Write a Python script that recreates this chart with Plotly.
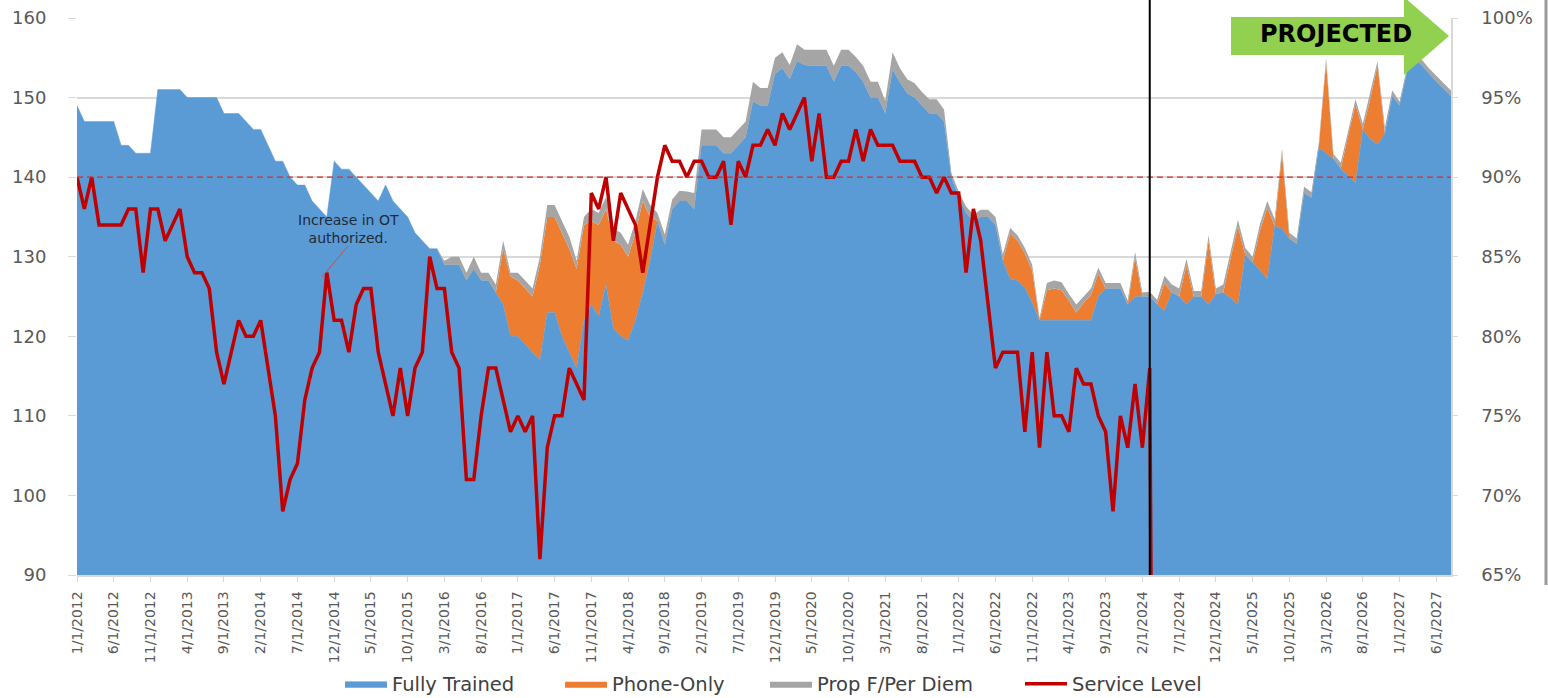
import plotly.graph_objects as go

# ---------------- data ----------------
N_MONTHS = 188
START_YEAR = 2012
months = [f"{(m % 12) + 1}/1/{START_YEAR + m // 12}" for m in range(N_MONTHS)]
tick_labels = months[::5]

fully_trained = [
    149, 147, 147, 147, 147, 147, 144, 144, 143, 143,
    143, 151, 151, 151, 151, 150, 150, 150, 150, 150,
    148, 148, 148, 147, 146, 146, 144, 142, 142, 140,
    139, 139, 137, 136, 135, 142, 141, 141, 140, 139,
    138, 137, 139, 137, 136, 135, 133, 132, 131, 131,
    129, 129, 129, 127, 128.5, 127, 127, 125.5, 124, 120,
    120, 119, 118, 117, 123, 123, 120, 118, 116, 122,
    124, 122.5, 126.5, 121, 120, 119.5, 122, 125.5, 129.5, 134.5,
    131.5, 136, 137, 137, 136, 144, 144, 144, 143, 143,
    144, 145, 149.5, 149, 149, 153, 153.7, 152.3, 154.6, 154.1,
    154, 154, 154, 152, 154, 154, 153.2, 152, 150, 150,
    148, 153.5, 151.9, 150.5, 150, 149, 148, 148, 147, 140,
    137.5, 135.5, 134.5, 135, 135, 134, 129.5, 127.2, 127, 126.1,
    124.2, 122, 122, 122, 122, 122, 122, 122, 122, 125,
    126, 126, 126, 124, 125, 125, 125, 124, 123.2, 125.5,
    125, 124, 125, 125, 124, 125.3, 125.5, 124.8, 124, 130.2,
    129.3, 128.3, 127.2, 133.9, 133.5, 132.3, 131.6, 138, 137.4, 143.7,
    143, 142.3, 141.1, 140.2, 139.3, 146, 144.8, 144.1, 145.5, 150.2,
    149, 153.2, 154.8, 154.1, 153, 152, 151.1, 150.2,
]

phone_only = [
    0, 0, 0, 0, 0, 0, 0, 0, 0, 0,
    0, 0, 0, 0, 0, 0, 0, 0, 0, 0,
    0, 0, 0, 0, 0, 0, 0, 0, 0, 0,
    0, 0, 0, 0, 0, 0, 0, 0, 0, 0,
    0, 0, 0, 0, 0, 0, 0, 0, 0, 0,
    0, 0, 0, 0, 0, 0, 0, 0, 7, 7.5,
    7, 7, 7, 12, 12, 12, 13, 13, 12.5, 12,
    10.5, 11.5, 9.5, 11, 11.5, 10.5, 11, 11.5, 5.5, 0,
    0, 0, 0, 0, 0, 0, 0, 0, 0, 0,
    0, 0, 0, 0, 0, 0, 0, 0, 0, 0,
    0, 0, 0, 0, 0, 0, 0, 0, 0, 0,
    0, 0, 0, 0, 0, 0, 0, 0, 0, 0,
    0, 0, 0, 0, 0, 0, 0, 5.7, 5, 4.3,
    4.1, 0, 3.8, 4, 3.8, 2.5, 1, 2.2, 3.2, 2.9,
    0, 0, 0, 0, 4.9, 0, 0, 0, 3.5, 0,
    0, 5, 0, 0, 8, 0, 0, 5, 9.8, 0,
    0, 5, 9, 0, 9.5, 0, 0, 0, 0, 0,
    11.4, 0, 0, 5, 9.9, 0, 5, 10, 0, 0,
    0, 0, 0, 0, 0, 0, 0, 0,
]

prop_f_per_diem = [
    0, 0, 0, 0, 0, 0, 0, 0, 0, 0,
    0, 0, 0, 0, 0, 0, 0, 0, 0, 0,
    0, 0, 0, 0, 0, 0, 0, 0, 0, 0,
    0, 0, 0, 0, 0, 0, 0, 0, 0, 0,
    0, 0, 0, 0, 0, 0, 0, 0, 0, 0,
    0.5, 1, 1, 1, 1.5, 1, 1, 1, 1, 0.5,
    1, 1, 1, 1, 1.5, 1.5, 1.5, 1.5, 1, 1,
    1.5, 1.5, 1.5, 1.5, 1.5, 1.5, 1.5, 1.5, 1.5, 1,
    1.3, 1.2, 1.3, 1.2, 2, 2, 2, 2, 2, 2,
    2, 2, 2.5, 2.2, 2.2, 2, 2, 1.8, 2.1, 1.9,
    2, 2, 2, 2, 2, 2, 1.9, 2, 2, 2,
    1.6, 2.2, 1.8, 1.8, 1.8, 1.7, 1.8, 1.8, 1.5, 0.5,
    0.7, 0.8, 0.8, 0.9, 0.9, 1, 0.8, 0.7, 0.7, 0.7,
    0.7, 0.3, 0.9, 1, 1, 0.8, 1, 0.8, 0.8, 0.7,
    0.7, 0.7, 0.7, 0.5, 0.7, 0.5, 0.6, 0.6, 0.9, 1,
    1, 0.7, 0.7, 0.7, 0.7, 0.7, 1, 0.8, 0.8, 0.9,
    0.7, 0.8, 0.8, 0.8, 0.6, 0.7, 0.7, 0.8, 0.7, 0.5,
    0.6, 0.6, 0.7, 0.6, 0.6, 0.7, 0.7, 0.5, 0.7, 0.7,
    0.5, 0.5, 0.5, 0.7, 0.7, 0.7, 0.7, 0.7,
]

service_level = [
    90, 88, 90, 87, 87, 87, 87, 88, 88, 84,
    88, 88, 86, 87, 88, 85, 84, 84, 83, 79,
    77, 79, 81, 80, 80, 81, 78, 75, 69, 71,
    72, 76, 78, 79, 84, 81, 81, 79, 82, 83,
    83, 79, 77, 75, 78, 75, 78, 79, 85, 83,
    83, 79, 78, 71, 71, 75, 78, 78, 76, 74,
    75, 74, 75, 66, 73, 75, 75, 78, 77, 76,
    89, 88, 90, 86, 89, 88, 87, 84, 87, 90,
    92, 91, 91, 90, 91, 91, 90, 90, 91, 87,
    91, 90, 92, 92, 93, 92, 94, 93, 94, 95,
    91, 94, 90, 90, 91, 91, 93, 91, 93, 92,
    92, 92, 91, 91, 91, 90, 90, 89, 90, 89,
    89, 84, 88, 86, 82, 78, 79, 79, 79, 74,
    79, 73, 79, 75, 75, 74, 78, 77, 77, 75,
    74, 69, 75, 73, 77, 73, 78, 0,
]

target_level = 140
actuals_end = "3/1/2024"

# ---------------- figure ----------------
W, H = 1548, 698
ML, MR, MT, MB = 77, 97, 18, 123
PW, PH = W - ML - MR, H - MT - MB


def px(xp):
    return (xp - ML) / PW


def py(yp):
    return (MT + PH - yp) / PH


FONT = "DejaVu Sans"
TICK_COLOR = "#595959"
GRID = "#D9D9D9"

fig = go.Figure()
fig.add_trace(go.Scatter(
    x=months, y=fully_trained, name="Fully Trained", stackgroup="one", legend="legend",
    mode="lines", line=dict(width=0.5, color="#5B9BD5"), fillcolor="#5B9BD5"))
fig.add_trace(go.Scatter(
    x=months, y=phone_only, name="Phone-Only", stackgroup="one", legend="legend2",
    mode="lines", line=dict(width=0, color="#ED7D31"), fillcolor="#ED7D31"))
fig.add_trace(go.Scatter(
    x=months, y=prop_f_per_diem, name="Prop F/Per Diem", stackgroup="one", legend="legend3",
    mode="lines", line=dict(width=0, color="#A5A5A5"), fillcolor="#A5A5A5"))
fig.add_trace(go.Scatter(
    x=months[:len(service_level)], y=service_level, name="Service Level", legend="legend4",
    yaxis="y2", mode="lines", line=dict(color="#C00000", width=3.5)))

LEG_Y = (H - 684) / H


def leg(xpix):
    return dict(orientation="h", xref="container", yref="container", x=xpix / W, xanchor="left",
                y=LEG_Y, yanchor="middle", font=dict(family=FONT, size=19.5, color="#404040"),
                bgcolor="rgba(0,0,0,0)", itemwidth=42)


fig.update_layout(
    width=W, height=H,
    margin=dict(l=ML, r=MR, t=MT, b=MB, pad=0, autoexpand=False),
    paper_bgcolor="white", plot_bgcolor="white",
    showlegend=True,
    legend=leg(340), legend2=leg(560), legend3=leg(765), legend4=leg(1020),
    xaxis=dict(type="category", range=[0, N_MONTHS - 1], tickmode="array",
               tickvals=tick_labels, ticktext=tick_labels, tickangle=-90,
               tickfont=dict(family=FONT, size=14, color=TICK_COLOR),
               showgrid=False, showline=True, linecolor=GRID, linewidth=1.5,
               ticks="outside", ticklen=5, tickcolor=GRID, zeroline=False,
               ticklabelstandoff=4),
    yaxis=dict(range=[90, 160], tick0=90, dtick=10, showgrid=True, gridcolor=GRID,
               gridwidth=1.5, tickfont=dict(family=FONT, size=18, color=TICK_COLOR),
               ticks="outside", ticklen=8, tickcolor=GRID, zeroline=False, showline=False,
               ticklabelstandoff=18),
    yaxis2=dict(overlaying="y", side="right", range=[65, 100], tick0=65, dtick=5,
                ticksuffix="%", showgrid=False, zeroline=False, showline=True,
                linecolor=GRID, linewidth=1.5, ticks="outside", ticklen=5, tickcolor=GRID,
                tickfont=dict(family=FONT, size=18, color=TICK_COLOR),
                ticklabelstandoff=20),
)

# target dashed line (90% service level == 140)
fig.add_shape(type="line", xref="paper", x0=0, x1=1, yref="y", y0=target_level, y1=target_level,
              line=dict(color="#D92B2B", width=1.3, dash="6px,4px"))
# actual / projected divider
fig.add_shape(type="line", xref="x", x0=actuals_end, x1=actuals_end, yref="paper",
              y0=0, y1=py(0), line=dict(color="black", width=2))

# PROJECTED arrow
xl, xb, xt = px(1231), px(1404), px(1449)
yt, yb, yht, yhb, yc = py(17), py(55), py(-3), py(75), py(36)
fig.add_shape(type="path", xref="paper", yref="paper",
              path=f"M {xl},{yt} L {xb},{yt} L {xb},{yht} L {xt},{yc} L {xb},{yhb} L {xb},{yb} L {xl},{yb} Z",
              fillcolor="#92D050", line=dict(width=0))
fig.add_annotation(xref="paper", yref="paper", x=px(1336), y=py(34), xanchor="center", yanchor="middle",
                   text="<b>PROJECTED</b>", showarrow=False,
                   font=dict(family=FONT, size=24, color="black"))

# OT annotation
fig.add_annotation(xref="paper", yref="paper", x=px(348), y=py(229), xanchor="center", yanchor="middle",
                   text="Increase in OT<br>authorized.", showarrow=False,
                   font=dict(family=FONT, size=14, color="#1E2A38"))
fig.add_shape(type="line", xref="paper", yref="paper", x0=px(348), y0=py(246), x1=px(322), y1=py(277),
              line=dict(color="#C0504D", width=1))

# chart frame edge at the far right
fig.add_shape(type="line", xref="paper", yref="paper", x0=px(1546), x1=px(1546), y0=py(0), y1=py(585),
              line=dict(color="#9A9A9A", width=3))

# remove the default page margin so the figure sits at the window's top-left corner
fig.write_html("out.html", config={"displayModeBar": False},
               post_script="document.body.style.margin='0px';")
